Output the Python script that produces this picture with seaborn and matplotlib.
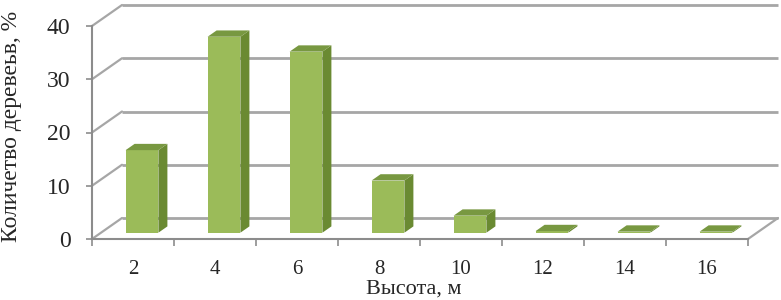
import matplotlib
matplotlib.use("Agg")
import matplotlib.pyplot as plt
from matplotlib.patches import Polygon
import seaborn as sns
import pandas as pd

# ---- data ----
heights = ["2", "4", "6", "8", "10", "12", "14", "16"]
percent = [15.5, 36.8, 34.0, 9.8, 3.2, 0.3, 0.2, 0.2]
yticks = [0, 10, 20, 30, 40]
xlabel = "Высота, м"
ylabel = "Количетво деревеьв, %"

# ---- style ----
sns.set_style("white")
plt.rcParams["font.family"] = ["Liberation Serif", "DejaVu Serif"]

FRONT = "#9BBB59"
SIDE = "#6A8A32"
TOP = "#789841"
GRID = "#A6A6A6"
AXIS = "#8C8C8C"

W, H = 781, 300
fig = plt.figure(figsize=(W / 100, H / 100), dpi=100)
ax = fig.add_axes([92 / W, 61 / H, 656 / W, 213 / H])

df = pd.DataFrame({"h": heights, "p": percent})
sns.barplot(data=df, x="h", y="p", order=heights, color=FRONT, saturation=1,
            width=0.4, linewidth=0, ax=ax, zorder=3)

ax.set_xlim(-0.5, len(heights) - 0.5)
ax.set_ylim(0, 40)

# depth of the pseudo-3D box in data units (30 px right, 21 px up)
px_per_cat = 656 / len(heights)
px_per_val = 213 / 40
DX = 30 / px_per_cat
DY = 21 / px_per_val
x_left, x_right = -0.5, len(heights) - 0.5

# back wall gridlines + left side diagonals
for v in yticks:
    ax.plot([x_left + DX, x_right + DX], [v + DY, v + DY], color=GRID, lw=2,
            clip_on=False, zorder=1, solid_capstyle="butt")
    ax.plot([x_left, x_left + DX], [v, v + DY], color=GRID, lw=1.6,
            clip_on=False, zorder=1)
# floor right edge
ax.plot([x_right, x_right + DX], [0, DY], color=GRID, lw=1.6, clip_on=False, zorder=1)

# 3D bars: shift fronts to mid-depth, add side and top faces
fx, fy = 0.3 * DX, 0.3 * DY
bx, by = 0.3 * DX, 0.3 * DY
for p in list(ax.patches):
    x0, w, h = p.get_x(), p.get_width(), p.get_height()
    X = x0 + fx
    p.set_x(X)
    p.set_y(fy)
    side = Polygon([(X + w, fy), (X + w + bx, fy + by), (X + w + bx, fy + by + h), (X + w, fy + h)],
                   closed=True, facecolor=SIDE, edgecolor="none", zorder=3, clip_on=False)
    top = Polygon([(X, fy + h), (X + w, fy + h), (X + w + bx, fy + h + by), (X + bx, fy + h + by)],
                  closed=True, facecolor=TOP, edgecolor="none", zorder=4, clip_on=False)
    ax.add_patch(side)
    ax.add_patch(top)

# spines
for s in ["top", "right"]:
    ax.spines[s].set_visible(False)
for s in ["left", "bottom"]:
    ax.spines[s].set_color(AXIS)
    ax.spines[s].set_linewidth(1.5)

ax.set_yticks(yticks)
ax.set_yticklabels([str(v) for v in yticks])
ax.tick_params(axis="y", direction="out", length=4.5, width=1.2, color=AXIS,
               labelsize=17, pad=11, left=True)
ax.set_xticks(range(len(heights)))
ax.set_xticklabels(heights)
ax.set_xticks([i - 0.5 for i in range(len(heights) + 1)], minor=True)
ax.tick_params(axis="x", which="major", length=0, labelsize=15, pad=15)
ax.tick_params(axis="x", which="minor", direction="out", length=5, width=1.2,
               color=AXIS, bottom=True)

ax.set_xlabel(xlabel, fontsize=16)
ax.set_ylabel(ylabel, fontsize=17)
ax.xaxis.set_label_coords(0.49, -0.19)
ax.yaxis.set_label_coords(-0.107, 0.528)

fig.savefig("out.png", dpi=100)
